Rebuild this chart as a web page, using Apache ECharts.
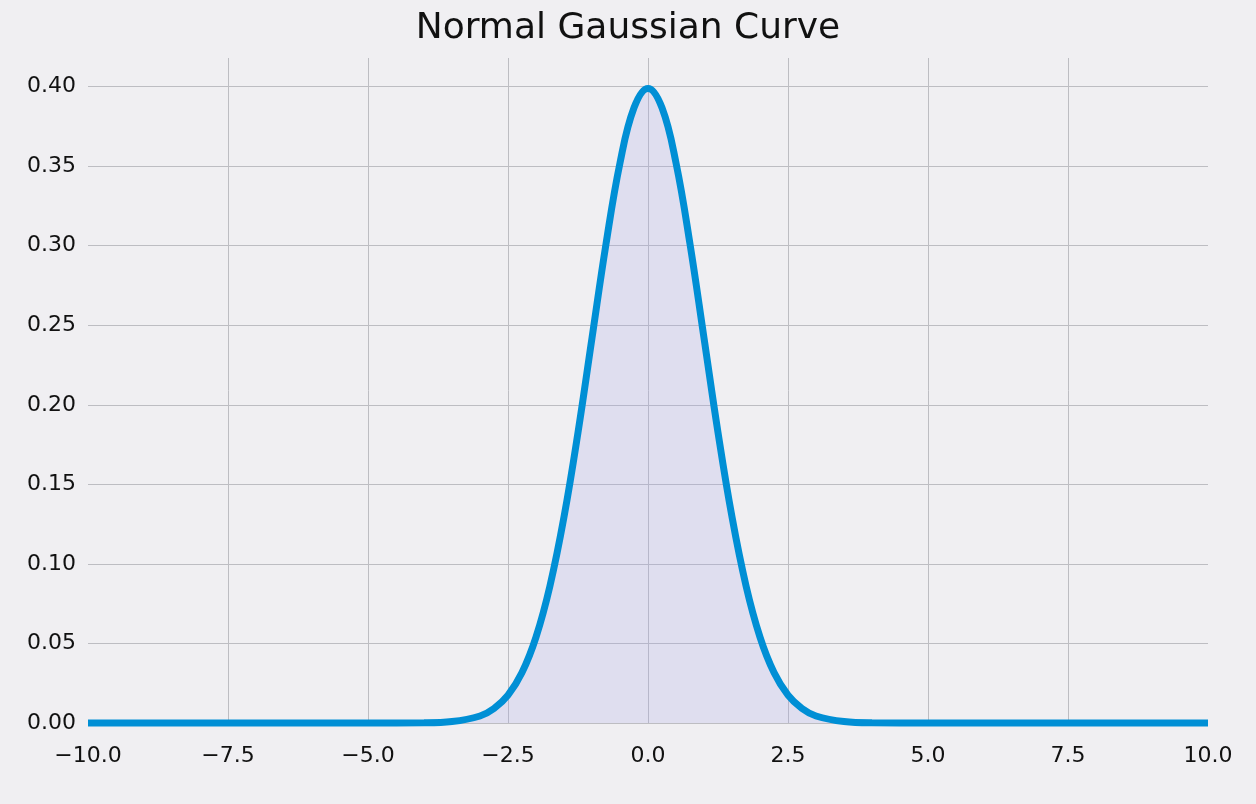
<!DOCTYPE html>
<html>
<head>
<meta charset="utf-8">
<script src="https://cdn.jsdelivr.net/npm/echarts@6/dist/echarts.min.js"></script>
<style>html,body{margin:0;background:#f0eff2}#c{width:1256px;height:804px}</style>
</head>
<body>
<div id="c"></div>
<script>
// values
var xs = [-10, -5, -4, -3.5, -3, -2.75, -2.5, -2.25, -2, -1.75, -1.5, -1.25, -1, -0.75, -0.5, -0.25,
  0, 0.25, 0.5, 0.75, 1, 1.25, 1.5, 1.75, 2, 2.25, 2.5, 2.75, 3, 3.5, 4, 5, 10];
var ys = [0, 0, 0.0001, 0.0009, 0.0044, 0.0091, 0.0175, 0.0317, 0.054, 0.0863, 0.1295, 0.1826, 0.242, 0.3011, 0.3521, 0.3867,
  0.3989, 0.3867, 0.3521, 0.3011, 0.242, 0.1826, 0.1295, 0.0863, 0.054, 0.0317, 0.0175, 0.0091, 0.0044, 0.0009, 0.0001, 0, 0];
var titleText = 'Normal Gaussian Curve';

var pts = xs.map(function(x, i){ return [x, ys[i]]; });
var chart = echarts.init(document.getElementById('c'));
var font = 'DejaVu Sans';
chart.setOption({
  backgroundColor: '#f0eff2',
  animation: false,
  title: {text: titleText, left: 'center', top: 6,
    textStyle: {fontFamily: font, fontSize: 36, fontWeight: 'normal', color: '#111'}},
  grid: {left: 88, right: 48, top: 58, bottom: 81},
  xAxis: {type: 'value', min: -10, max: 10, interval: 2.5,
    axisLine: {show: false}, axisTick: {show: false},
    axisLabel: {fontFamily: font, fontSize: 22, color: '#111', margin: 22,
      formatter: function(v){ return v.toFixed(1).replace('-', '\u2212'); }},
    splitLine: {showMinLine: false, showMaxLine: false, lineStyle: {color: '#bdbdc2', width: 1}}},
  yAxis: {type: 'value', min: 0, max: 0.418, interval: 0.05,
    axisLine: {show: false}, axisTick: {show: false},
    axisLabel: {fontFamily: font, fontSize: 22, color: '#111', margin: 12, showMaxLabel: false,
      formatter: function(v){ return v.toFixed(2); }},
    splitLine: {showMaxLine: false, lineStyle: {color: '#bdbdc2', width: 1}}},
  series: [{
    type: 'line', data: pts, smooth: 0.4, showSymbol: false, clip: false,
    lineStyle: {color: '#008fd5', width: 7},
    areaStyle: {color: 'rgba(160,160,230,0.3)'}
  }]
});
</script>
</body>
</html>
